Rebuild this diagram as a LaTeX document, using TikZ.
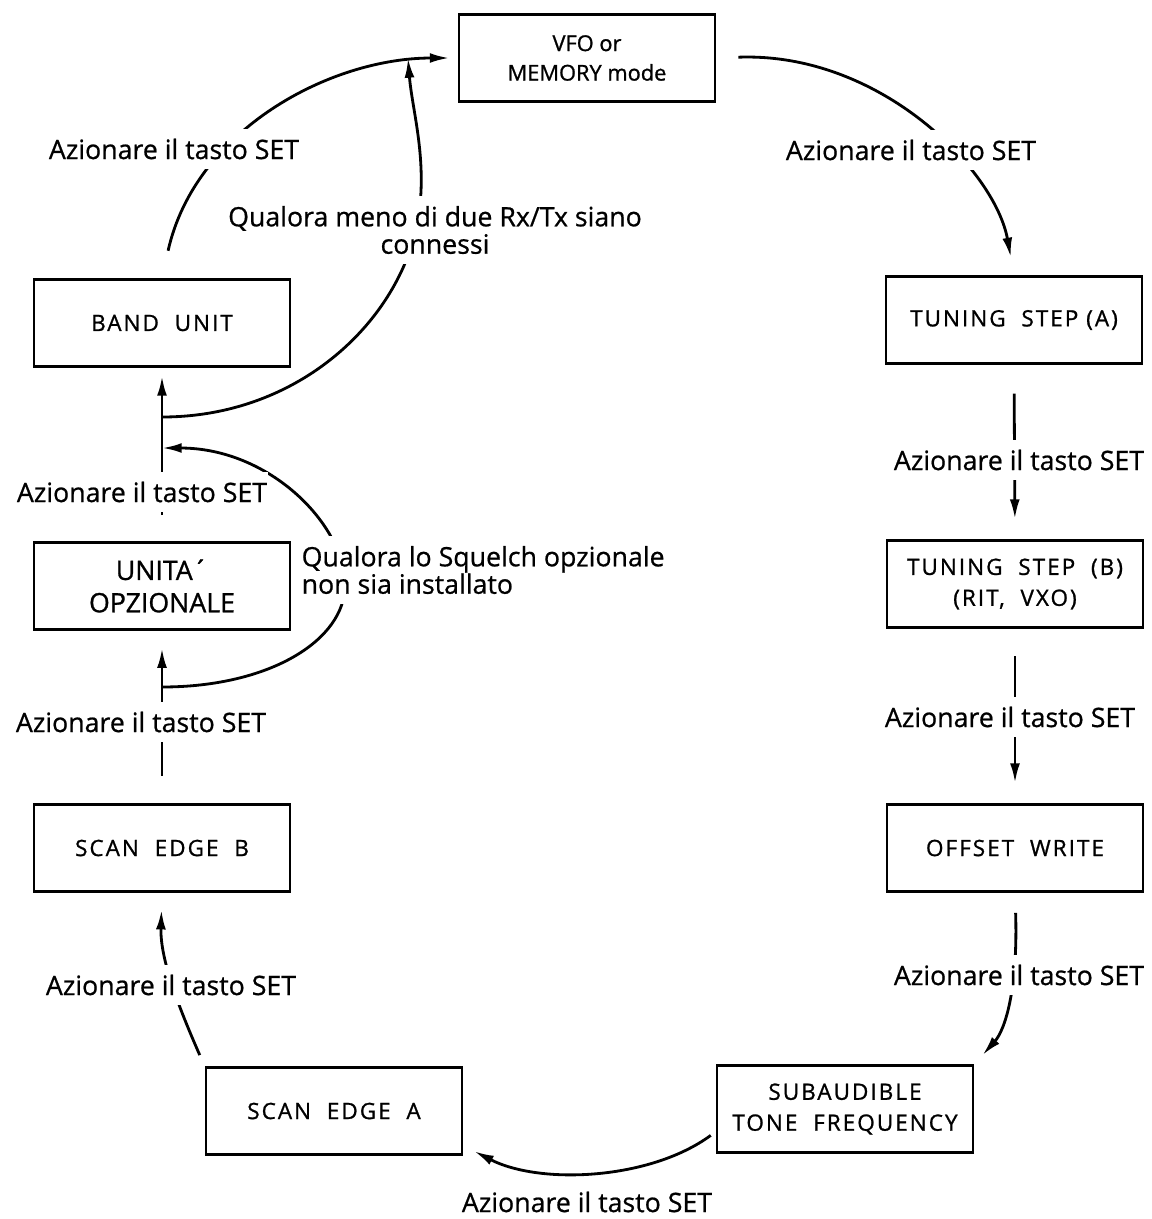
\documentclass[tikz,border=0pt]{standalone}
\usepackage{fontspec}
\setmainfont{Open Sans}
\newfontfamily\lblfont[FakeBold=0.7]{Open Sans}
\newfontfamily\boxfont[LetterSpace=9,FakeBold=1]{Open Sans}
\newfontfamily\plainboxfont[FakeBold=1]{Open Sans}
\usetikzlibrary{arrows.meta,calc}

\tikzset{
  box/.style={draw, line width=2pt, minimum width=6.4cm, minimum height=2.175cm,
    align=center, font=\boxfont\fontsize{16}{22}\selectfont},
  bigbox/.style={box, font=\plainboxfont\fontsize{19}{23}\selectfont},
  lbl/.style={fill=white, inner xsep=1pt, inner ysep=7pt, align=center,
    font=\lblfont\fontsize{19}{19.5}\selectfont},
  link/.style={line width=2pt, -{Latex[length=14pt,width=7pt]}},
}

\begin{document}
\begin{tikzpicture}[x=0.025cm, y=-0.025cm]
  \useasboundingbox (0,0) rectangle (1152,1219);

  % stati del ciclo
  \node[box, font=\plainboxfont\fontsize{15.5}{21}\selectfont] (vfo) at (587,58) {VFO or\\MEMORY mode};
  \node[box] (ta) at (1014,320) {TUNING\ \ STEP (A)};
  \node[box] (tb) at (1015,584) {TUNING\ \ STEP\ \ (B)\\(RIT,\ \ VXO)};
  \node[box] (offset) at (1015,848) {OFFSET\ \ WRITE};
  \node[box] (sub) at (845,1109) {SUBAUDIBLE\\TONE\ \ FREQUENCY};
  \node[box] (scana) at (334,1111) {SCAN\ \ EDGE\ \ A};
  \node[box] (scanb) at (162,848) {SCAN\ \ EDGE\ \ B};
  \node[bigbox] (unita) at (162,586) {UNITA´\\OPZIONALE};
  \node[box] (band) at (162,323) {BAND\ \ UNIT};

  % punti sulla linea di sinistra
  \coordinate (sqin) at (162,687);
  \coordinate (sqout) at (162,448);
  \coordinate (rxin) at (162,417);
  \coordinate (rxout) at (408,58);

  % collegamenti
  \draw[link, shorten <=0.55cm, shorten >=0.45cm] (vfo.east) .. controls (880,52) and (995,170) .. (ta.north);
  \draw[link, shorten <=0.72cm, shorten >=0.5cm] (ta.south) -- (tb.north);
  \draw[link, shorten <=0.68cm, shorten >=0.5cm] (tb.south) -- (offset.north);
  \draw[link, shorten <=0.5cm, shorten >=0.3cm] (offset.south) .. controls (1018,990) and (1005,1030) .. (sub.north east);
  \draw[link, shorten <=0.15cm, shorten >=0.3cm] (sub.190) .. controls (650,1180) and (540,1185) .. (scana.-15);
  \draw[link, shorten <=0.3cm, shorten >=0.42cm] (scana.north west) .. controls (180,1010) and (160,960) .. (scanb.south);
  \draw[link, shorten <=0.68cm, shorten >=0.43cm] (scanb.north) -- (unita.south);
  \draw[link, shorten <=0.65cm, shorten >=0.2cm] (unita.north) -- (band.south);
  \draw[link, shorten <=0.7cm, shorten >=0.2cm] (band.north) .. controls (195,130) and (330,58) .. (vfo.west);

  % scorciatoie
  \draw[link] (sqin) .. controls (270,687) and (345,640) .. (345,585)
    .. controls (345,525) and (270,448) .. (sqout);
  \draw[link] (rxin) .. controls (300,417) and (400,320) .. (418,220)
    .. controls (428,160) and (412,110) .. (rxout);

  % etichette
  \node[lbl] (set1) at (174,149) {Azionare il tasto SET};
  \node[lbl] (set2) at (911,150) {Azionare il tasto SET};
  \node[lbl] (set3) at (1019,460) {Azionare il tasto SET};
  \node[lbl] (set4) at (1010,717) {Azionare il tasto SET};
  \node[lbl] (set5) at (1019,975) {Azionare il tasto SET};
  \node[lbl] (set6) at (587,1202) {Azionare il tasto SET};
  \node[lbl] (set7) at (171,985) {Azionare il tasto SET};
  \node[lbl] (set8) at (141,722) {Azionare il tasto SET};
  \node[lbl] (set9) at (142,492) {Azionare il tasto SET};
  \node[lbl, align=left, anchor=west] (squelch) at (300,570) {Qualora lo Squelch opzionale\\non sia installato};
  \node[lbl] (rxtx) at (435,230) {Qualora meno di due Rx/Tx siano\\connessi};
\end{tikzpicture}
\end{document}
